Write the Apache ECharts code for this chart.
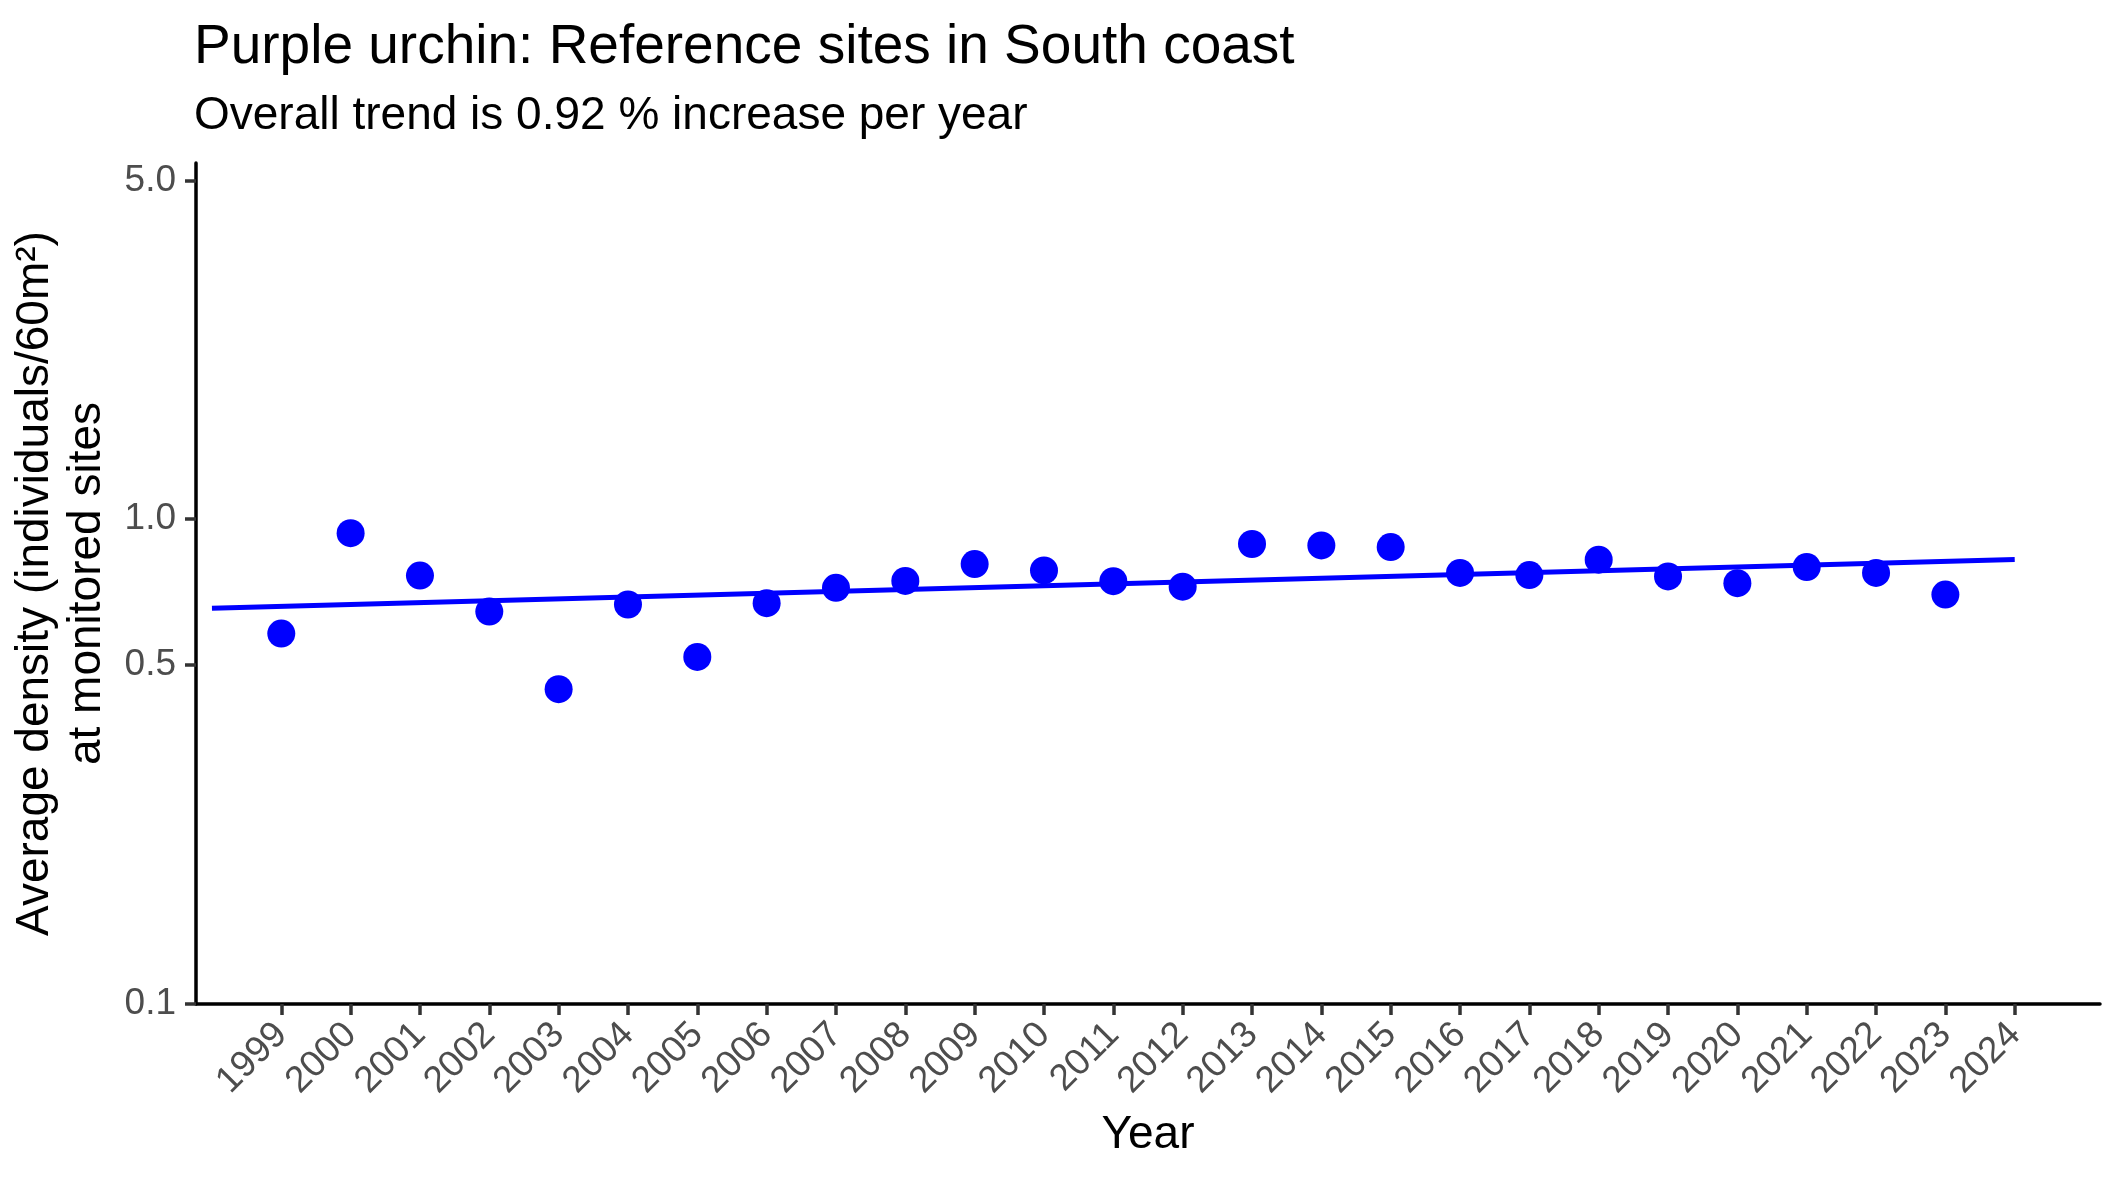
<!DOCTYPE html>
<html>
<head>
<meta charset="utf-8">
<title>Purple urchin</title>
<script src="https://cdn.jsdelivr.net/npm/echarts@6/dist/echarts.min.js"></script>
<style>
  html, body { margin: 0; padding: 0; background: #fff; }
  #main { width: 2125px; height: 1181px; }
</style>
</head>
<body>
<div id="main"></div>
<script>
// annual means
var years = [1999, 2000, 2001, 2002, 2003, 2004, 2005, 2006, 2007, 2008, 2009, 2010, 2011,
             2012, 2013, 2014, 2015, 2016, 2017, 2018, 2019, 2020, 2021, 2022, 2023];
var density = [0.581, 0.936, 0.765, 0.645, 0.446, 0.667, 0.520, 0.671, 0.722, 0.746, 0.808, 0.784, 0.745,
               0.726, 0.889, 0.883, 0.876, 0.775, 0.767, 0.825, 0.762, 0.738, 0.797, 0.775, 0.699];
// fitted trend (0.92 % per year)
var trendYears = [1998, 2024];
var trendValues = [0.655, 0.826];
// axis labels
var xTicks = [1999, 2000, 2001, 2002, 2003, 2004, 2005, 2006, 2007, 2008, 2009, 2010, 2011, 2012,
              2013, 2014, 2015, 2016, 2017, 2018, 2019, 2020, 2021, 2022, 2023, 2024];
var yTicks = [0.1, 0.5, 1, 5];

var font = "'Liberation Sans', Arial, sans-serif";

var pts = years.map(function(y, i){ return [y, density[i]]; });
var trend = trendYears.map(function(y, i){ return [y, trendValues[i]]; });

var myChart = echarts.init(document.getElementById('main'));
var option = {
  backgroundColor: '#fff',
  animation: false,
  title: {
    text: 'Purple urchin: Reference sites in South coast',
    subtext: 'Overall trend is 0.92 % increase per year',
    left: 194,
    top: 20,
    itemGap: 18,
    padding: 0,
    textStyle: { fontFamily: font, fontSize: 55, fontWeight: 'normal', color: '#000' },
    subtextStyle: { fontFamily: font, fontSize: 46, color: '#000' }
  },
  grid: { left: 196, right: 25, top: 163, bottom: 177, containLabel: false },
  xAxis: {
    type: 'value',
    min: 1997.77,
    max: 2025.23,
    name: 'Year',
    nameLocation: 'middle',
    nameGap: 108,
    nameTextStyle: { fontFamily: font, fontSize: 46, color: '#000' },
    splitLine: { show: false },
    axisLine: { lineStyle: { color: '#000', width: 3.5 } },
    axisTick: { customValues: xTicks, length: 11, lineStyle: { color: '#333', width: 3.5 } },
    axisLabel: {
      customValues: xTicks,
      rotate: 45,
      margin: 25,
      fontFamily: font,
      fontSize: 37,
      color: '#4D4D4D',
      formatter: function(v){ return String(Math.round(v)); }
    }
  },
  yAxis: {
    type: 'log',
    logBase: 10,
    min: 0.1,
    max: 5.43,
    name: 'Average density (individuals/60m²)\nat monitored sites',
    nameLocation: 'middle',
    nameGap: 81,
    nameTextStyle: { fontFamily: font, fontSize: 46, color: '#000', lineHeight: 52 },
    splitLine: { show: false },
    axisLine: { lineStyle: { color: '#000', width: 3.5 } },
    axisTick: { customValues: yTicks, length: 11, lineStyle: { color: '#333', width: 3.5 } },
    axisLabel: {
      customValues: yTicks,
      margin: 20,
      fontFamily: font,
      fontSize: 37,
      color: '#4D4D4D',
      formatter: function(v){ return Number(v).toFixed(1); }
    }
  },
  series: [
    {
      name: 'trend',
      type: 'line',
      data: trend,
      showSymbol: false,
      symbol: 'none',
      lineStyle: { color: '#0000FF', width: 5 },
      z: 2
    },
    {
      name: 'density',
      type: 'scatter',
      data: pts,
      symbol: 'circle',
      symbolSize: 28,
      itemStyle: { color: '#0000FF', opacity: 1 },
      z: 3
    }
  ]
};
myChart.setOption(option);
</script>
</body>
</html>
